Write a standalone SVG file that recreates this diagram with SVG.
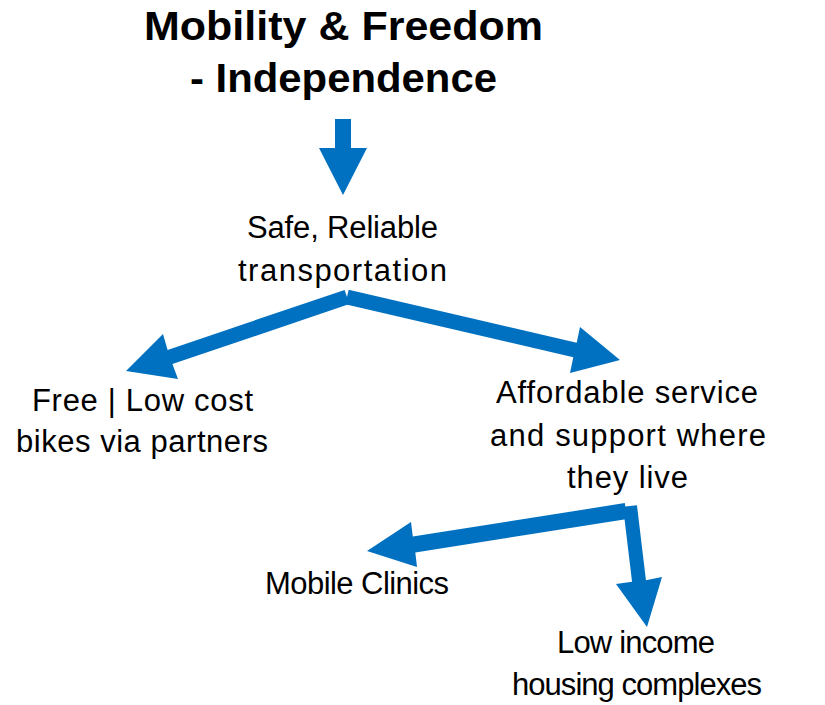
<svg xmlns="http://www.w3.org/2000/svg" width="825" height="705" viewBox="0 0 825 705">
  <style>
    .title { font-family: "Liberation Sans", Arial, sans-serif; font-weight: bold; font-size: 41px; fill: #000000; text-anchor: middle; }
    .label { font-family: "Liberation Sans", Arial, sans-serif; font-size: 31px; fill: #000000; text-anchor: middle; }
    .arrow { fill: #0070C0; stroke: none; }
  </style>
  <rect width="825" height="705" fill="#ffffff"/>
  <g id="connectors">
    <polygon class="arrow" points="335,119 351,119 351,148 367,148 343,195 319,148 335,148"/>
    <polygon class="arrow" points="344.6,289.9 167.6,349.9 163,334 126,371 178,379 172.4,364.1 349.4,304.1"/>
    <polygon class="arrow" points="348.7,289.7 576.7,342.7 580,327 620,360 570,373 573.3,357.3 345.3,304.3"/>
    <polygon class="arrow" points="624.8,503.1 412.8,536.6 411,522 367,551 417,567 415.3,552.4 627.3,518.9"/>
    <polygon class="arrow" points="636.95,505.2 645.95,580.2 662,577 647,627 616,584 632.05,581.8 623.05,506.8"/>
  </g>
  <g id="node-mobility">
    <text class="title" x="343.5" y="40" textLength="399" lengthAdjust="spacingAndGlyphs">Mobility &amp; Freedom</text>
    <text class="title" x="343.5" y="92" textLength="307" lengthAdjust="spacingAndGlyphs">- Independence</text>
  </g>
  <g id="node-transport">
    <text class="label" x="342.5" y="238" textLength="191" lengthAdjust="spacing">Safe, Reliable</text>
    <text class="label" x="342.5" y="281" textLength="209" lengthAdjust="spacing">transportation</text>
  </g>
  <g id="node-bikes">
    <text class="label" x="142.5" y="411" textLength="221" lengthAdjust="spacing">Free | Low cost</text>
    <text class="label" x="142" y="452" textLength="252" lengthAdjust="spacing">bikes via partners</text>
  </g>
  <g id="node-service">
    <text class="label" x="627" y="403" textLength="262" lengthAdjust="spacing">Affordable service</text>
    <text class="label" x="628" y="446" textLength="276" lengthAdjust="spacing">and support where</text>
    <text class="label" x="627.5" y="488" textLength="121" lengthAdjust="spacing">they live</text>
  </g>
  <g id="node-clinics">
    <text class="label" x="357" y="594" textLength="184" lengthAdjust="spacing">Mobile Clinics</text>
  </g>
  <g id="node-housing">
    <text class="label" x="636" y="653" textLength="158" lengthAdjust="spacing">Low income</text>
    <text class="label" x="637" y="695" textLength="250" lengthAdjust="spacing">housing complexes</text>
  </g>
</svg>
